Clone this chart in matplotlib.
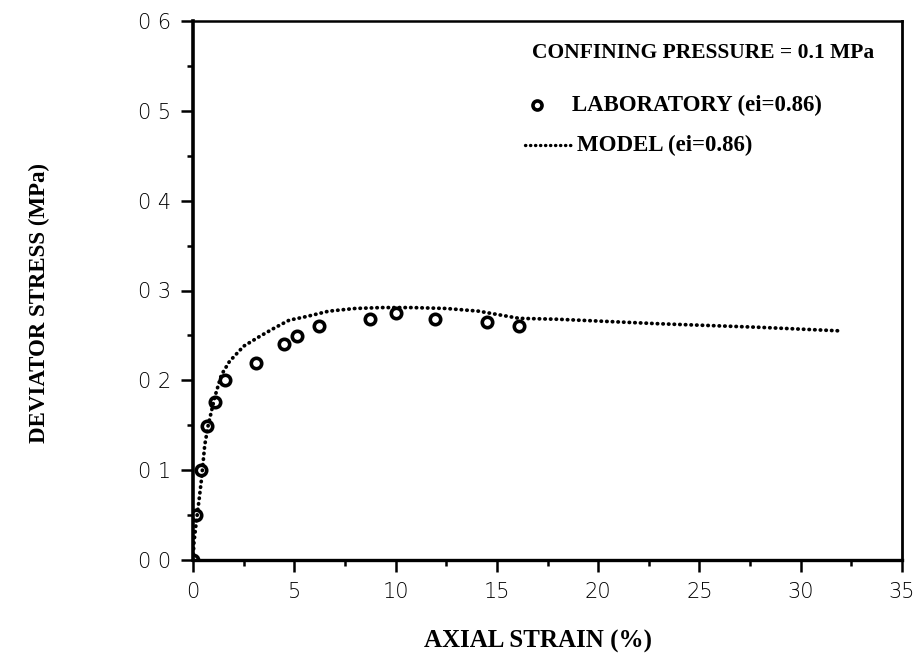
import matplotlib
matplotlib.use("Agg")
import matplotlib.pyplot as plt
from matplotlib.lines import Line2D
from matplotlib.ticker import MultipleLocator

# Laboratory points (axial strain %, deviator stress MPa)
lab_strain = [0.0, 0.16, 0.41, 0.69, 1.10, 1.59, 3.11, 4.51, 5.11, 6.20, 8.74, 10.03, 11.97, 14.5, 16.07]
lab_stress = [0.0, 0.050, 0.100, 0.149, 0.176, 0.200, 0.219, 0.240, 0.249, 0.260, 0.268, 0.275, 0.268, 0.265, 0.260]

# Model curve
model_strain = [0.0, 0.05, 0.15, 0.3, 0.42, 0.58, 0.75, 1.07, 1.4, 1.8, 2.5, 3.3, 4.0, 4.75,
                5.6, 6.7, 8.0, 9.3, 10.8, 12.5, 14.1, 15.1, 16.1, 18.0, 20.0, 23.0, 28.0, 32.0]
model_stress = [0.0, 0.02, 0.04, 0.067, 0.09, 0.128, 0.15, 0.181, 0.206, 0.221, 0.238, 0.249, 0.258, 0.267,
                0.271, 0.277, 0.280, 0.281, 0.281, 0.280, 0.277, 0.273, 0.269, 0.268, 0.266, 0.263, 0.259, 0.255]

y_ticks = [0.0, 0.1, 0.2, 0.3, 0.4, 0.5, 0.6]
y_tick_labels = ["0 0", "0 1", "0 2", "0 3", "0 4", "0 5", "0 6"]
x_ticks = [0, 5, 10, 15, 20, 25, 30, 35]

title_text = "CONFINING PRESSURE = 0.1 MPa"
lab_label = "LABORATORY (ei=0.86)"
model_label = "MODEL (ei=0.86)"

W, H = 919, 671
def fx(px):
    return px / W
def fy(py):
    return 1 - py / H

dotted = (0, (0.1, 1.4))
serif_bold = dict(family="Liberation Serif", weight="bold")

fig = plt.figure(figsize=(9.19, 6.71), dpi=100)
ax = fig.add_axes([fx(193), fy(560), fx(902) - fx(193), fy(21) - fy(560)])

ax.plot(model_strain, model_stress, linestyle=dotted, color="black", lw=2.7,
        dash_capstyle="round")
ax.plot(lab_strain, lab_stress, linestyle="none", marker="o", ms=7.5, mfc="none",
        mec="black", mew=2.6)

ax.set_xlim(0, 35)
ax.set_ylim(0, 0.6)
ax.set_xticks(x_ticks)
ax.set_yticks(y_ticks)
ax.set_yticklabels(y_tick_labels)
ax.xaxis.set_minor_locator(MultipleLocator(2.5))
ax.yaxis.set_minor_locator(MultipleLocator(0.05))
ax.tick_params(which="major", direction="out", length=8.5, width=1.8, labelsize=15,
               pad=7, colors="black")
ax.tick_params(which="minor", direction="out", length=4.5, width=1.8)
ax.tick_params(top=False, right=False, which="both")
for lab in ax.get_xticklabels() + ax.get_yticklabels():
    lab.set_family("DejaVu Sans")
    lab.set_weight("light")

ax.spines["left"].set_linewidth(2.6)
ax.spines["bottom"].set_linewidth(2.4)
ax.spines["top"].set_linewidth(1.8)
ax.spines["right"].set_linewidth(2.0)

ax.set_xlabel("AXIAL STRAIN (%)", fontsize=18, **serif_bold)
ax.set_ylabel("DEVIATOR STRESS (MPa)", fontsize=16.5, **serif_bold)
ax.xaxis.set_label_coords(0.4866, -0.13)
ax.yaxis.set_label_coords(-0.2017, 0.477)

# legend block, laid out like the original figure
fig.text(fx(532), fy(53), title_text, fontsize=15.5, va="center", ha="left", **serif_bold)
fig.add_artist(Line2D([fx(537)], [fy(105)], transform=fig.transFigure, linestyle="none",
                      marker="o", ms=6.5, mfc="none", mec="black", mew=2.6))
fig.text(fx(572), fy(105), lab_label, fontsize=16.5, va="center", ha="left", **serif_bold)
fig.add_artist(Line2D([fx(525), fx(574)], [fy(145), fy(145)], transform=fig.transFigure,
                      linestyle=dotted, color="black", lw=2.4, dash_capstyle="round"))
fig.text(fx(577), fy(145), model_label, fontsize=16.5, va="center", ha="left", **serif_bold)

fig.savefig("out.png", dpi=100)
